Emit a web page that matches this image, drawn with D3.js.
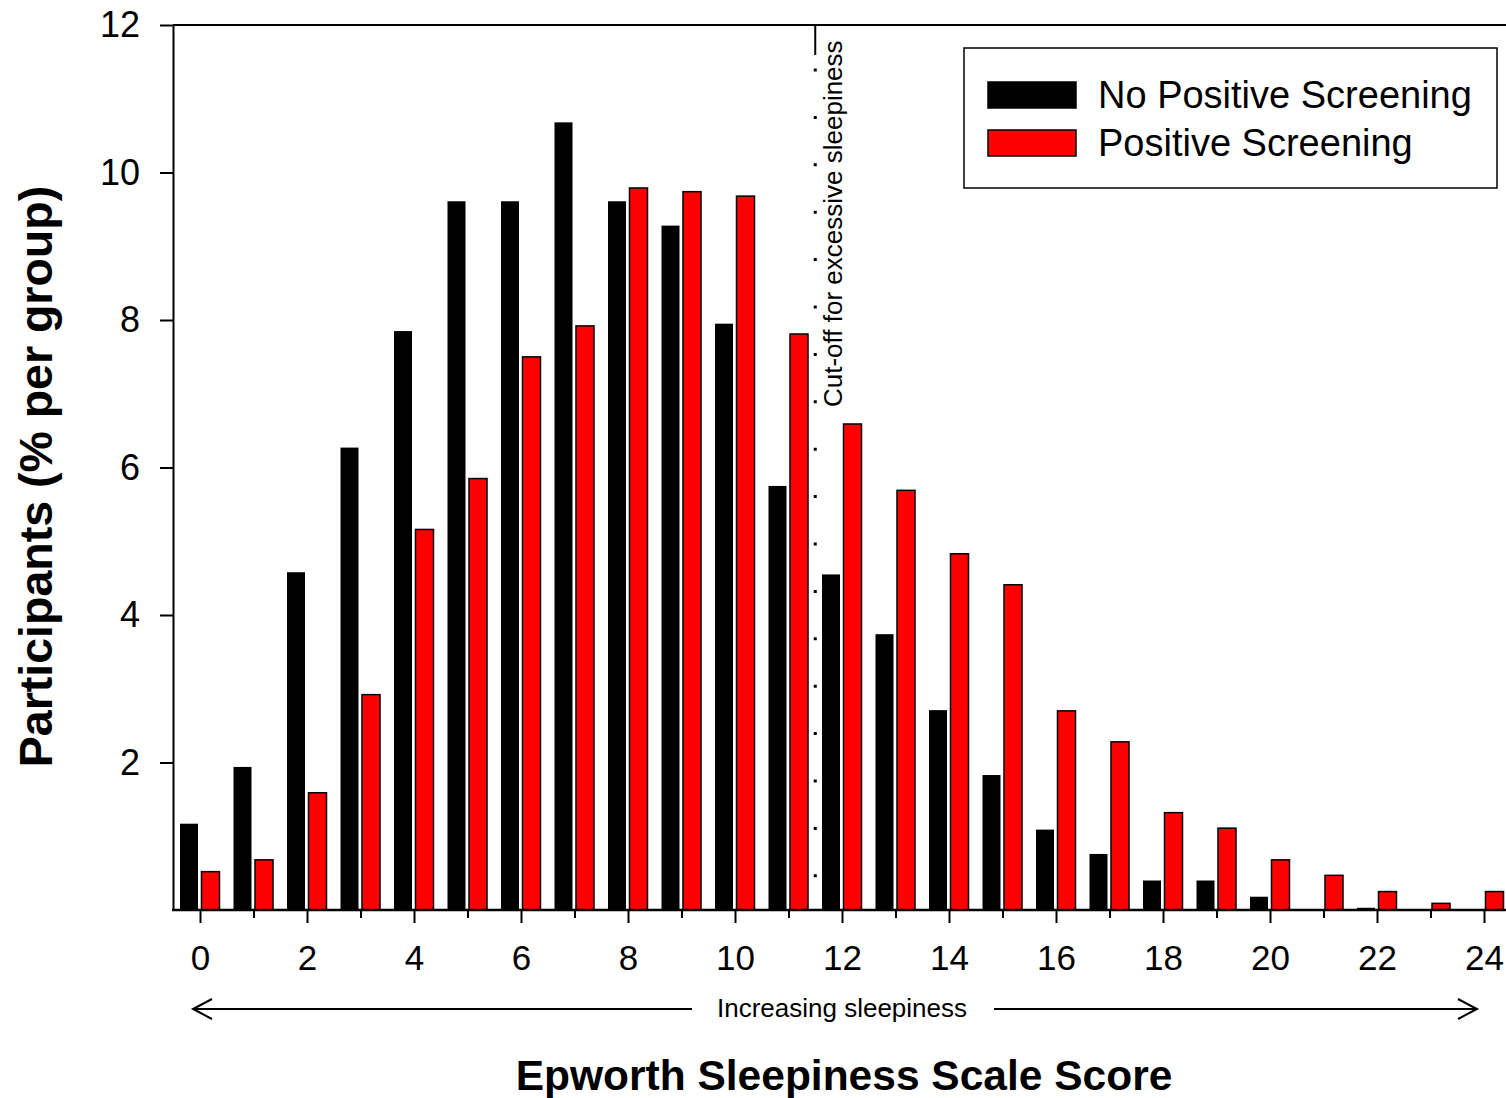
<!DOCTYPE html>
<html>
<head>
<meta charset="utf-8">
<script src="https://cdn.jsdelivr.net/npm/d3@7"></script>
<style>
  body { margin: 0; background: #fff; }
  svg { display: block; font-family: "Liberation Sans", Arial, sans-serif; }
</style>
</head>
<body>
<svg id="chart" width="1506" height="1098"></svg>
<script>
// Epworth score categories 0..24
const scores = d3.range(0, 25);
// % of participants per group
const noPositive = [1.17, 1.94, 4.58, 6.27, 7.85, 9.61, 9.61, 10.68, 9.61, 9.28, 7.95, 5.75, 4.55, 3.74, 2.71, 1.83, 1.09, 0.76, 0.40, 0.40, 0.18, 0, 0.03, 0, 0];
const positive = [0.52, 0.68, 1.59, 2.92, 5.16, 5.85, 7.50, 7.92, 9.79, 9.74, 9.68, 7.81, 6.59, 5.69, 4.83, 4.41, 2.70, 2.28, 1.32, 1.11, 0.68, 0.47, 0.25, 0.09, 0.25];
const seriesNames = ['No Positive Screening', 'Positive Screening'];
const seriesColors = ['#000000', '#ff0000'];
const yTicks = [2, 4, 6, 8, 10, 12];
const cutoff = 11.5;

const svg = d3.select('#chart');
const margin = { top: 25, bottom: 910, left: 173 };

const x = d3.scaleLinear().domain([-0.5, 24.5]).range([173.25, 1510.75]);
const y = d3.scaleLinear().domain([0, 12]).range([910, 25]);
const sub = d3.scaleBand().domain([0, 1]).range([-20, 19.5]).paddingInner(0.163);

// bars
const series = [noPositive, positive];
series.forEach((vals, si) => {
    svg.append('g')
        .selectAll('rect')
        .data(scores.filter(s => vals[s] > 0))
        .join('rect')
        .attr('x', s => x(s) + sub(si))
        .attr('width', sub.bandwidth())
        .attr('y', s => y(vals[s]))
        .attr('height', s => y(0) - y(vals[s]))
        .attr('fill', seriesColors[si])
        .attr('stroke', si === 1 ? '#000' : 'none')
        .attr('stroke-width', 1.5);
});

// cut-off line: short solid piece at top, dotted below
svg.append('line')
    .attr('x1', x(cutoff)).attr('x2', x(cutoff))
    .attr('y1', y(12)).attr('y2', y(12) + 30)
    .attr('stroke', '#000').attr('stroke-width', 2);
svg.append('line')
    .attr('x1', x(cutoff)).attr('x2', x(cutoff))
    .attr('y1', y(12) + 43.5).attr('y2', y(0) - 25)
    .attr('stroke', '#000').attr('stroke-width', 3)
    .attr('stroke-dasharray', '3 44.4');
svg.append('text')
    .attr('transform', `translate(${x(cutoff) + 27},407) rotate(-90)`)
    .attr('font-size', 26)
    .text('Cut-off for excessive sleepiness');

// top frame line
svg.append('line')
    .attr('x1', margin.left).attr('x2', 1506)
    .attr('y1', y(12)).attr('y2', y(12))
    .attr('stroke', '#000').attr('stroke-width', 2);

// y axis
svg.append('g')
    .attr('transform', `translate(${margin.left},0)`)
    .call(d3.axisLeft(y).tickValues(yTicks).tickSize(13).tickPadding(20).tickSizeOuter(0))
    .call(g => g.select('.domain').attr('stroke-width', 2))
    .call(g => g.selectAll('.tick line').attr('stroke-width', 2))
    .call(g => g.selectAll('text').attr('font-size', 36).attr('font-family', null).attr('fill', '#000'));

// x axis
svg.append('g')
    .attr('transform', `translate(0,${y(0)})`)
    .call(d3.axisBottom(x).tickValues(scores).tickSize(13).tickPadding(22)
        .tickFormat(d => d % 2 === 0 ? d : ''))
    .call(g => g.select('.domain').remove())
    .call(g => g.selectAll('.tick line').attr('stroke-width', 2).attr('y2', d => d % 2 === 0 ? 13 : 8))
    .call(g => g.selectAll('text').attr('font-size', 35).attr('font-family', null).attr('fill', '#000'));
svg.append('line')
    .attr('x1', margin.left - 1).attr('x2', 1506)
    .attr('y1', y(0)).attr('y2', y(0))
    .attr('stroke', '#000').attr('stroke-width', 2.5);

// increasing sleepiness arrow
const arrowY = 1009;
const ax0 = x(0) - 7, ax1 = x(24) - 7;
svg.append('text')
    .attr('x', x(12)).attr('y', arrowY + 8)
    .attr('text-anchor', 'middle')
    .attr('font-size', 26)
    .text('Increasing sleepiness');
const arrow = svg.append('g').attr('fill', 'none').attr('stroke', '#000').attr('stroke-width', 2);
arrow.append('path').attr('d', `M${ax0},${arrowY}H692M994,${arrowY}H${ax1}`);
arrow.append('path').attr('d', `M${ax0 + 19},${arrowY - 10}L${ax0},${arrowY}L${ax0 + 19},${arrowY + 10}`);
arrow.append('path').attr('d', `M${ax1 - 19},${arrowY - 10}L${ax1},${arrowY}L${ax1 - 19},${arrowY + 10}`);

// axis titles
svg.append('text')
    .attr('x', 844).attr('y', 1090)
    .attr('text-anchor', 'middle')
    .attr('font-size', 42.5).attr('font-weight', 'bold')
    .text('Epworth Sleepiness Scale Score');
svg.append('text')
    .attr('transform', `translate(52,${(y(0) + y(12)) / 2 + 9}) rotate(-90)`)
    .attr('text-anchor', 'middle')
    .attr('font-size', 46.5).attr('font-weight', 'bold')
    .text('Participants (% per group)');

// legend
const legend = svg.append('g').attr('transform', 'translate(964,48)');
legend.append('rect')
    .attr('width', 533).attr('height', 140)
    .attr('fill', '#fff').attr('stroke', '#000').attr('stroke-width', 1.5);
const item = legend.selectAll('g.item')
    .data(seriesNames)
    .join('g')
    .attr('class', 'item')
    .attr('transform', (d, i) => `translate(24,${34 + i * 48})`);
item.append('rect')
    .attr('width', 88).attr('height', 26)
    .attr('fill', (d, i) => seriesColors[i])
    .attr('stroke', '#000').attr('stroke-width', 1.5);
item.append('text')
    .attr('x', 110).attr('y', 26)
    .attr('font-size', 38)
    .text(d => d);
</script>
</body>
</html>
